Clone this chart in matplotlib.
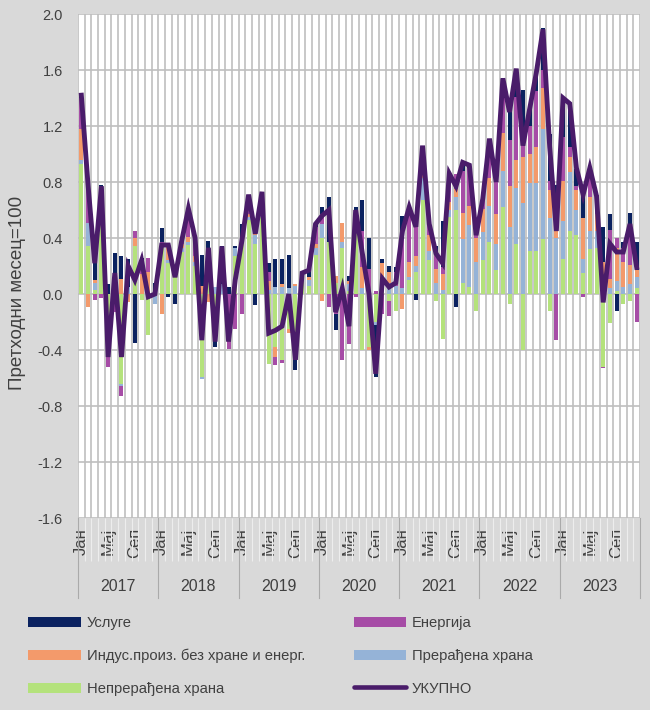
import numpy as np
import matplotlib
matplotlib.use("Agg")
import matplotlib.pyplot as plt
from matplotlib.patches import Patch
from matplotlib.lines import Line2D

plt.rcParams['font.family'] = ['Liberation Sans', 'DejaVu Sans']

# monthly contributions, 2017-2023 (one row per year)
unprocessed_food = [
    0.93, 0.34, 0.03, 0.73, -0.25, 0.00, -0.64, 0.00, 0.34, -0.04, -0.29, 0.00,
    0.33, 0.22, 0.17, 0.30, 0.35, 0.20, -0.59, 0.10, -0.20, 0.00, 0.00, 0.27,
    0.40, 0.53, 0.36, 0.55, -0.50, -0.38, -0.47, -0.25, -0.47, 0.10, 0.06, 0.28,
    0.40, 0.37, 0.08, 0.33, 0.02, 0.47, -0.40, -0.38, -0.20, 0.05, -0.05, -0.12,
    0.00, 0.10, 0.16, 0.67, 0.24, -0.05, -0.32, 0.55, 0.60, 0.08, 0.05, -0.12,
    0.24, 0.37, 0.17, 0.62, -0.07, 0.36, -0.40, 0.31, 0.31, 0.39, -0.12, 0.00,
    0.25, 0.45, 0.42, 0.15, 0.32, 0.33, -0.52, -0.21, 0.02, -0.07, -0.05, 0.04,
]
processed_food = [
    0.03, 0.17, 0.05, 0.01, -0.03, 0.03, -0.02, 0.05, 0.00, 0.00, 0.00, -0.07,
    0.02, 0.02, 0.02, 0.03, 0.02, 0.03, -0.02, 0.05, 0.05, 0.07, 0.00, 0.06,
    0.00, 0.02, 0.06, 0.05, 0.03, 0.05, 0.05, 0.04, 0.06, 0.00, 0.04, 0.05,
    0.10, 0.00, 0.00, 0.04, 0.05, 0.05, 0.04, 0.00, -0.02, 0.05, 0.08, 0.06,
    0.04, 0.02, 0.04, 0.16, 0.07, 0.08, 0.03, 0.05, 0.09, 0.31, 0.44, 0.23,
    0.20, 0.26, 0.19, 0.26, 0.48, 0.40, 0.65, 0.48, 0.48, 0.79, 0.54, 0.40,
    0.27, 0.42, 0.18, 0.10, 0.13, 0.12, 0.10, 0.04, 0.07, 0.05, 0.07, 0.08,
]
industrial = [
    0.22, -0.09, 0.02, 0.02, -0.05, 0.06, 0.11, -0.06, 0.06, 0.14, 0.16, 0.00,
    -0.14, 0.11, 0.00, 0.03, 0.04, 0.04, 0.06, -0.06, -0.05, 0.00, 0.00, 0.00,
    0.00, 0.02, 0.04, 0.08, 0.06, -0.07, 0.02, -0.03, 0.01, 0.02, 0.02, 0.03,
    -0.05, 0.00, 0.05, 0.14, 0.02, 0.02, 0.15, -0.02, 0.00, 0.12, 0.08, 0.00,
    -0.11, 0.11, 0.07, 0.06, 0.11, 0.10, 0.11, 0.06, 0.06, 0.19, 0.14, 0.17,
    0.17, 0.20, 0.21, 0.27, 0.29, 0.20, 0.33, 0.21, 0.26, 0.29, 0.20, 0.05,
    0.29, 0.11, 0.14, 0.29, 0.24, 0.12, 0.13, 0.07, 0.24, 0.18, 0.14, 0.05,
]
energy = [
    0.22, 0.31, -0.04, -0.03, -0.19, -0.13, -0.07, 0.00, 0.05, 0.09, 0.10, 0.00,
    0.02, 0.00, 0.00, 0.03, 0.20, 0.14, 0.00, 0.00, -0.04, 0.00, -0.39, -0.25,
    -0.14, 0.12, 0.04, 0.03, 0.07, -0.06, -0.02, 0.00, 0.00, 0.04, 0.00, 0.12,
    0.07, -0.09, -0.14, -0.47, -0.36, -0.02, 0.26, 0.18, 0.02, -0.14, -0.11, 0.10,
    0.40, 0.38, 0.24, 0.10, 0.08, 0.10, 0.05, 0.18, 0.11, 0.30, 0.27, 0.10,
    0.06, 0.24, 0.23, 0.25, 0.33, 0.45, 0.15, 0.20, 0.40, 0.13, 0.07, -0.33,
    0.31, 0.07, 0.03, -0.02, 0.21, 0.14, -0.01, 0.35, 0.07, 0.10, 0.29, -0.20,
]
services = [
    0.02, 0.00, 0.15, 0.02, 0.07, 0.20, 0.16, 0.20, -0.35, 0.03, 0.00, 0.08,
    0.10, -0.02, -0.07, 0.00, 0.00, 0.00, 0.22, 0.23, -0.09, 0.27, 0.05, 0.01,
    0.10, 0.02, -0.08, 0.02, 0.06, 0.20, 0.18, 0.24, -0.07, 0.00, 0.05, 0.02,
    0.05, 0.32, -0.12, 0.00, 0.04, 0.08, 0.22, 0.22, -0.37, 0.03, 0.04, 0.03,
    0.12, 0.01, -0.04, 0.07, 0.00, 0.06, 0.33, 0.02, -0.09, 0.06, 0.02, 0.04,
    0.01, 0.04, 0.00, 0.14, 0.28, 0.20, 0.33, 0.12, 0.13, 0.30, 0.33, 0.33,
    0.28, 0.31, 0.12, 0.17, 0.00, 0.00, 0.25, 0.11, -0.12, 0.04, 0.08, 0.20,
]
total = [
    1.42, 0.78, 0.22, 0.77, -0.45, 0.15, -0.45, 0.20, 0.10, 0.24, -0.02, 0.00,
    0.35, 0.35, 0.12, 0.38, 0.61, 0.40, -0.33, 0.33, -0.34, 0.34, -0.34, 0.10,
    0.38, 0.71, 0.43, 0.73, -0.28, -0.26, -0.23, 0.00, -0.47, 0.15, 0.17, 0.50,
    0.56, 0.60, -0.13, 0.04, -0.23, 0.60, 0.29, 0.00, -0.57, 0.11, 0.05, 0.08,
    0.45, 0.62, 0.48, 1.06, 0.50, 0.29, 0.22, 0.86, 0.77, 0.94, 0.92, 0.42,
    0.68, 1.11, 0.80, 1.54, 1.30, 1.61, 1.06, 1.32, 1.58, 1.89, 1.05, 0.45,
    1.40, 1.36, 0.90, 0.71, 0.90, 0.70, -0.06, 0.36, 0.30, 0.30, 0.50, 0.19,
]

years = ['2017', '2018', '2019', '2020', '2021', '2022', '2023']
month_labels = ['Јан', 'Мај', 'Сеп']
y_ticks = [-1.6, -1.2, -0.8, -0.4, 0.0, 0.4, 0.8, 1.2, 1.6, 2.0]

series = [
    ('Непрерађена храна', unprocessed_food, '#b4e27c'),
    ('Прерађена храна', processed_food, '#95b3d7'),
    ('Индус.произ. без хране и енерг.', industrial, '#f39a6b'),
    ('Енергија', energy, '#a64ca6'),
    ('Услуге', services, '#0b2260'),
]
total_color = '#4a1c6a'
grid_color = '#bfbfbf'
text_color = '#404040'

n = len(total)
x = np.arange(n)

fig = plt.figure(figsize=(6.5, 7.1), dpi=100, facecolor='#d9d9d9')
ax = fig.add_axes([78 / 650, 1 - 518 / 710, 562 / 650, 504 / 710])
ax.set_facecolor('white')

# stacked bars, positives and negatives stacked separately
pos_base = np.zeros(n)
neg_base = np.zeros(n)
for name, vals, color in series:
    v = np.array(vals)
    bottom = np.where(v >= 0, pos_base, neg_base)
    ax.bar(x, v, bottom=bottom, width=0.6, color=color, zorder=2)
    pos_base += np.where(v >= 0, v, 0)
    neg_base += np.where(v < 0, v, 0)

ax.plot(x, total, color=total_color, linewidth=3.5, zorder=3,
        solid_joinstyle='miter')

ax.set_xlim(-0.5, n - 0.5)
ax.set_ylim(-1.6, 2.0)
ax.set_yticks(y_ticks)
ax.set_yticklabels([f'{t:.1f}' for t in y_ticks])
ax.tick_params(axis='y', length=0, pad=11, labelsize=10.5, labelcolor=text_color)

# month boundaries: vertical grid + long tick marks into the label area
ax.set_xticks(np.arange(-0.5, n, 1.0), minor=True)
ax.grid(which='minor', axis='x', color=grid_color, linewidth=1.2, zorder=0)
ax.grid(which='major', axis='y', color=grid_color, linewidth=1.2, zorder=0)
ax.set_axisbelow(True)
ax.tick_params(axis='x', which='minor', length=31, width=0.8, color='#ededed',
               direction='out')

major = [12 * y + m for y in range(len(years)) for m in (0, 4, 8)]
ax.set_xticks(major)
ax.set_xticklabels(month_labels * len(years), rotation=90)
ax.tick_params(axis='x', which='major', length=0, pad=7, labelsize=12,
               labelcolor=text_color)
for lab in ax.get_xticklabels():
    lab.set_verticalalignment('top')

for s in ax.spines.values():
    s.set_visible(False)

# year level of the category axis
trans = ax.get_xaxis_transform()
for i in range(len(years) + 1):
    xb = 12 * i - 0.5
    ax.plot([xb, xb], [0, -0.159], transform=trans, color='#aaaaaa',
            linewidth=0.8, clip_on=False)
for i, yr in enumerate(years):
    ax.text(12 * i + 5.5, -0.135, yr, transform=trans, ha='center',
            va='center', fontsize=11.5, color=text_color)

ax.set_ylabel('Претходни месец=100', fontsize=13.5, color=text_color)
ax.yaxis.set_label_coords(-0.093, 0.446)

# legend: two columns below the chart
handles = {name: Patch(facecolor=color, edgecolor='none') for name, _, color in series}
handles['УКУПНО'] = Line2D([0], [0], color=total_color, linewidth=3.3,
                           solid_capstyle='round')
order = ['Услуге', 'Индус.произ. без хране и енерг.', 'Непрерађена храна',
         'Енергија', 'Прерађена храна', 'УКУПНО']
fig.legend([handles[k] for k in order], order, ncol=2,
           loc='upper left', bbox_to_anchor=(15 / 650, 1 - 603 / 710),
           frameon=False, fontsize=10.6, handlelength=3.55,
           handletextpad=0.42, columnspacing=3.3, labelspacing=1.27,
           labelcolor=text_color)

fig.savefig('out.png', dpi=100, facecolor=fig.get_facecolor())
